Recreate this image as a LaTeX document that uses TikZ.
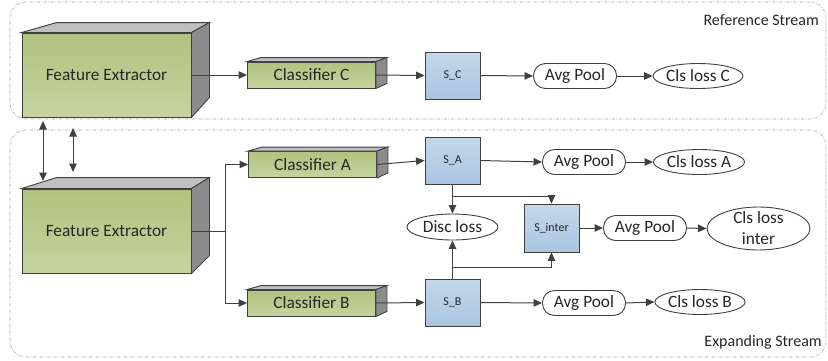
\documentclass[tikz,border=0pt]{standalone}
\usepackage{fontspec}
\setmainfont{Carlito}
\usetikzlibrary{shapes.geometric,arrows.meta,calc}
\definecolor{edge}{HTML}{404040}
\definecolor{txt}{HTML}{262626}
\definecolor{gtop}{HTML}{B2C27E}
\definecolor{gbot}{HTML}{C6D3A0}
\definecolor{topface}{HTML}{C0C0C0}
\definecolor{sideface}{HTML}{8C8C8C}
\definecolor{btop}{HTML}{C4D7EB}
\definecolor{bbot}{HTML}{ABC5E1}
\definecolor{frame}{HTML}{A8A8A8}
\begin{document}
\begin{tikzpicture}[x=1pt,y=-1pt,
  font=\fontsize{17.3}{21}\selectfont, text=txt,
  container/.style={draw=frame, line width=0.6pt, rounded corners=16pt,
    dash pattern=on 3pt off 1.5pt on 1pt off 1.5pt, inner sep=0pt},
  front/.style={draw=edge, line width=0.9pt, top color=gtop, bottom color=gbot, inner sep=0pt},
  topf/.style={draw=edge, line width=0.9pt, fill=topface},
  sidef/.style={draw=edge, line width=0.9pt, fill=sideface},
  sbox/.style={draw=edge, line width=0.9pt, top color=btop, bottom color=bbot,
    minimum width=55pt, minimum height=47pt, inner sep=0pt, font=\fontsize{12}{14}\selectfont},
  pool/.style={draw=edge, line width=0.9pt, fill=white, rounded corners=12pt,
    minimum width=83pt, minimum height=25pt, inner sep=0pt},
  loss/.style={ellipse, draw=edge, line width=0.9pt, fill=white,
    minimum width=88pt, minimum height=25pt, inner sep=0pt},
  arr/.style={draw=edge, line width=1pt, -{Triangle[length=8.5pt,width=7.5pt]}},
  darr/.style={draw=edge, line width=1pt, {Triangle[length=8.5pt,width=7.5pt]}-{Triangle[length=8.5pt,width=7.5pt]}},
  con/.style={draw=edge, line width=1pt},
  lab/.style={font=\fontsize{16}{18}\selectfont, inner sep=0pt}
]
\useasboundingbox (0,0) rectangle (828,360);

% containers
\node[container, minimum width=816pt, minimum height=117pt] (refs) at (418,60.5) {};
\node[container, minimum width=816pt, minimum height=227pt] (exps) at (418,243.5) {};
\node[lab, anchor=east] (reflab) at (819,20) {Reference Stream};
\node[lab, anchor=east] (explab) at (822,342) {Expanding Stream};

% feature extractors (3D boxes)
\node[front, minimum width=169pt, minimum height=84pt] (fe1) at (106.5,75) {Feature Extractor};
\draw[topf] (fe1.north west) -- ++(35,-10) -- ($(fe1.north east)+(18,-10)$) -- (fe1.north east) -- cycle;
\draw[sidef] (fe1.north east) -- ++(18,-10) -- ($(fe1.south east)+(18,-20)$) -- (fe1.south east) -- cycle;

\node[front, minimum width=169pt, minimum height=84pt] (fe2) at (106.5,231) {Feature Extractor};
\draw[topf] (fe2.north west) -- ++(35,-11) -- ($(fe2.north east)+(18,-11)$) -- (fe2.north east) -- cycle;
\draw[sidef] (fe2.north east) -- ++(18,-11) -- ($(fe2.south east)+(18,-18)$) -- (fe2.south east) -- cycle;

% classifiers
\node[front, minimum width=128pt, minimum height=26pt] (cc) at (311.5,75) {Classifier C};
\draw[topf] (cc.north west) -- ++(14,-4) -- ($(cc.north east)+(11,-4)$) -- (cc.north east) -- cycle;
\draw[sidef] (cc.north east) -- ++(11,-4) -- ($(cc.south east)+(11,-5)$) -- (cc.south east) -- cycle;

\node[front, minimum width=128pt, minimum height=26pt] (ca) at (312.5,164.5) {Classifier A};
\draw[topf] (ca.north west) -- ++(14,-4) -- ($(ca.north east)+(11,-4)$) -- (ca.north east) -- cycle;
\draw[sidef] (ca.north east) -- ++(11,-4) -- ($(ca.south east)+(11,-5)$) -- (ca.south east) -- cycle;

\node[front, minimum width=128pt, minimum height=26pt] (cb) at (311.5,303) {Classifier B};
\draw[topf] (cb.north west) -- ++(14,-4) -- ($(cb.north east)+(11,-4)$) -- (cb.north east) -- cycle;
\draw[sidef] (cb.north east) -- ++(11,-4) -- ($(cb.south east)+(11,-5)$) -- (cb.south east) -- cycle;

% score maps
\node[sbox] (sc) at (452.5,75.5) {S\_C};
\node[sbox] (sa) at (452.5,160.5) {S\_A};
\node[sbox] (sb) at (452.5,302.5) {S\_B};
\node[sbox, minimum height=48pt] (si) at (551.5,228) {S\_inter};

% pools and losses
\node[pool] (pc) at (575,76) {Avg Pool};
\node[pool] (pa) at (584,162) {Avg Pool};
\node[pool] (pi) at (645,228) {Avg Pool};
\node[pool] (pb) at (584,303) {Avg Pool};

\node[loss, minimum width=90pt] (lc) at (698,76) {Cls loss C};
\node[loss] (la) at (699,162) {Cls loss A};
\node[loss, minimum width=86pt] (lb) at (700,302) {Cls loss B};
\node[loss, minimum width=103pt, minimum height=43pt, inner ysep=-2pt, align=center] (li) at (758.5,228.5) {Cls loss\\inter};
\node[loss, minimum width=91pt, minimum height=26pt] (dl) at (452.5,227) {Disc loss};

% coordinates
\coordinate (u1) at (43,121);
\coordinate (d1) at (43,181);
\coordinate (u2) at (73,128);
\coordinate (d2) at (73,172);
\coordinate (jf) at (225,231);
\coordinate (ja) at (452.5,196);
\coordinate (jb) at (452.5,267);

% connectors: reference stream
\draw[darr] (u1) -- (d1);
\draw[darr] (u2) -- (d2);
\draw[arr] (fe1.east) -- (cc.west);
\draw[arr] (cc.east) -- (sc.west);
\draw[arr] (sc.east) -- (pc.west);
\draw[arr] (pc.east) -- (lc.west);

% connectors: expanding stream
\draw[con] (fe2.east) -- (jf);
\draw[arr] (jf) |- (ca.west);
\draw[arr] (jf) |- (cb.west);
\draw[arr] (ca.east) -- (sa.west);
\draw[arr] (cb.east) -- (sb.west);
\draw[arr] (sa.east) -- (pa.west);
\draw[arr] (pa.east) -- (la.west);
\draw[arr] (sb.east) -- (pb.west);
\draw[arr] (pb.east) -- (lb.west);
\draw[arr] (sa.south) -- (dl.north);
\draw[arr] (ja) -| (si.north);
\draw[arr] (sb.north) -- (dl.south);
\draw[arr] (jb) -| (si.south);
\draw[arr] (si.east) -- (pi.west);
\draw[arr] (pi.east) -- (li.west);
\end{tikzpicture}
\end{document}
